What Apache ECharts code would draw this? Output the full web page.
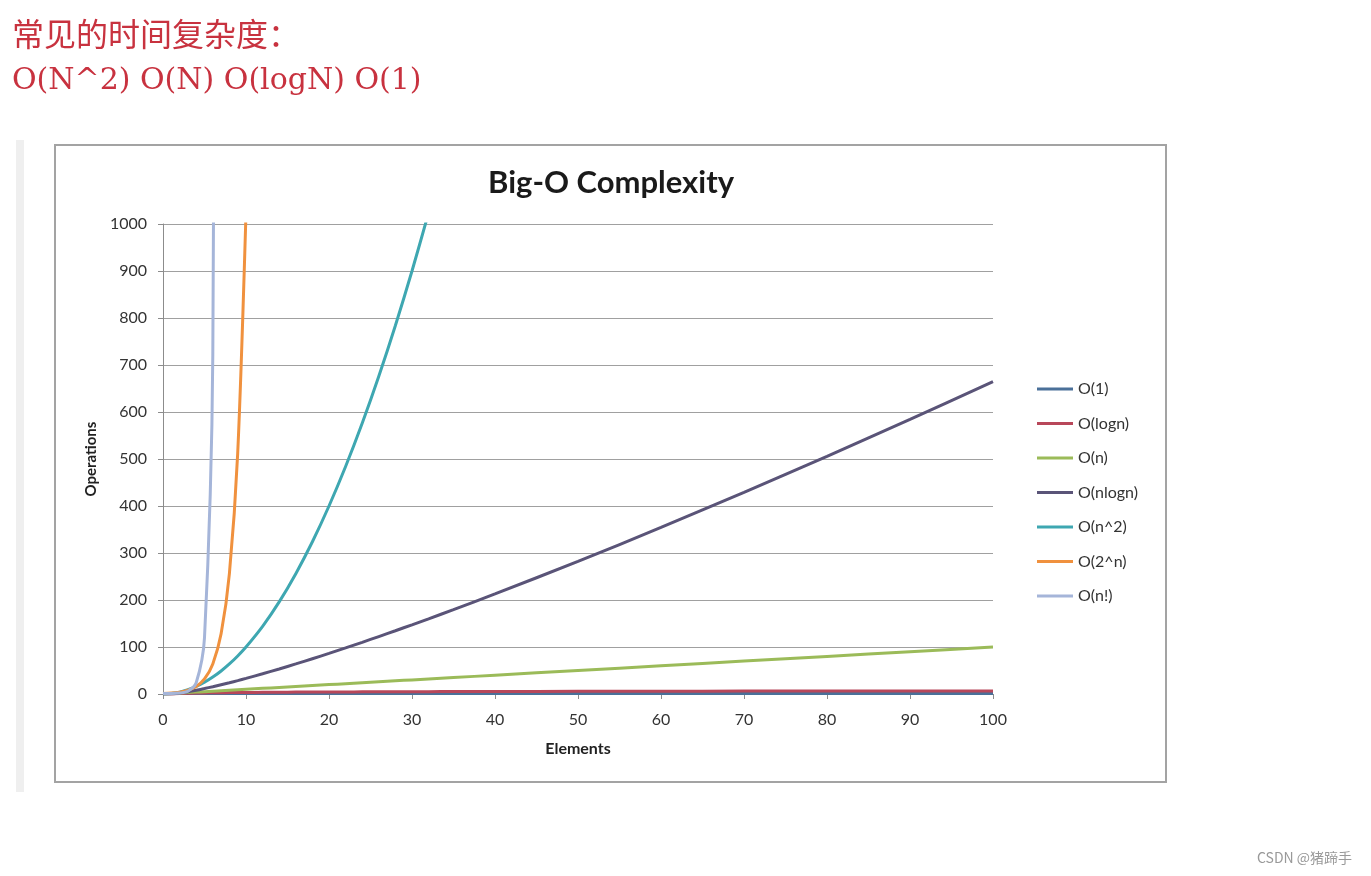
<!DOCTYPE html>
<html>
<head>
<meta charset="utf-8">
<script src="https://cdn.jsdelivr.net/npm/echarts@6/dist/echarts.min.js"></script>
<style>
html,body{margin:0;padding:0;background:#fff;}
#chart{width:1371px;height:876px;}
</style>
</head>
<body>
<div id="chart"></div>
<script>
// ---- data ----
const headingLine1 = '常见的时间复杂度：';
const headingLine2 = 'O(N^2) O(N) O(logN) O(1)';
const chartTitle = 'Big-O Complexity';
const xAxisName = 'Elements';
const yAxisName = 'Operations';
const watermark = 'CSDN @猪蹄手';
const seriesNames = ['O(1)', 'O(logn)', 'O(n)', 'O(nlogn)', 'O(n^2)', 'O(2^n)', 'O(n!)'];
const elements = [0, 1, 2, 3, 4, 5, 6, 7, 8, 9, 10, 12, 14, 16, 18, 20, 22, 24, 26, 28, 30, 32, 35, 40, 50, 60, 70, 80, 90, 100];
const opsConst  = [1, 1, 1, 1, 1, 1, 1, 1, 1, 1, 1, 1, 1, 1, 1, 1, 1, 1, 1, 1, 1, 1, 1, 1, 1, 1, 1, 1, 1, 1];
const opsLog    = [0, 0, 1, 1.58, 2, 2.32, 2.58, 2.81, 3, 3.17, 3.32, 3.58, 3.81, 4, 4.17, 4.32, 4.46, 4.58, 4.7, 4.81, 4.91, 5, 5.13, 5.32, 5.64, 5.91, 6.13, 6.32, 6.49, 6.64];
const opsLinear = [0, 1, 2, 3, 4, 5, 6, 7, 8, 9, 10, 12, 14, 16, 18, 20, 22, 24, 26, 28, 30, 32, 35, 40, 50, 60, 70, 80, 90, 100];
const opsNLogN  = [0, 0, 2, 4.75, 8, 11.6, 15.5, 19.7, 24, 28.5, 33.2, 43, 53.3, 64, 75.1, 86.4, 98.1, 110, 122.2, 134.6, 147.2, 160, 179.5, 212.9, 282.2, 354.4, 429.1, 505.8, 584.3, 664.4];
const opsSquare = [0, 1, 4, 9, 16, 25, 36, 49, 64, 81, 100, 144, 196, 256, 324, 400, 484, 576, 676, 784, 900, 1024, null, null, null, null, null, null, null, null];
const opsExp    = [1, 2, 4, 8, 16, 32, 64, 128, 256, 512, 1024, null, null, null, null, null, null, null, null, null, null, null, null, null, null, null, null, null, null, null];
const opsFact   = [1, 1, 2, 6, 24, 120, 720, 5040, null, null, null, null, null, null, null, null, null, null, null, null, null, null, null, null, null, null, null, null, null, null];
const yTicks = { min: 0, max: 1000, interval: 100 };
const xTicks = { min: 0, max: 100, interval: 10 };

const seriesValues = [opsConst, opsLog, opsLinear, opsNLogN, opsSquare, opsExp, opsFact];
const seriesColors = ['#4a7099', '#b8475a', '#9bbb59', '#5a5478', '#3ea7b1', '#f0913e', '#a5b5d9'];

const chart = echarts.init(document.getElementById('chart'), null, { renderer: 'canvas' });

const series = seriesNames.map((name, i) => ({
  name: name,
  type: 'line',
  data: elements.map((x, j) => [x, seriesValues[i][j]]),
  showSymbol: false,
  symbol: 'none',
  smooth: 0.3,
  connectNulls: false,
  clip: true,
  lineStyle: { width: 3, color: seriesColors[i] },
  itemStyle: { color: seriesColors[i] },
  z: 3 + i
}));

const tickFont = { fontFamily: 'Lato', fontSize: 16, color: '#333' };

chart.setOption({
  animation: false,
  backgroundColor: '#ffffff',
  title: {
    text: chartTitle,
    left: 483,
    top: 162,
    textStyle: { fontFamily: 'Lato', fontWeight: 'bold', fontSize: 31, lineHeight: 32, color: '#1a1a1a' }
  },
  graphic: [
    { type: 'rect', z: -10, shape: { x: 16, y: 140, width: 8, height: 652 }, style: { fill: '#efefef' } },
    { type: 'rect', z: -10, shape: { x: 55, y: 145, width: 1111, height: 637 }, style: { fill: '#ffffff', stroke: '#a3a3a3', lineWidth: 2 } },
    { type: 'text', z: 10, left: 12, top: 18, style: { text: headingLine1, fontFamily: 'Noto Sans CJK SC', fontSize: 32, fill: '#c8323f' } },
    { type: 'text', z: 10, left: 12, top: 66, style: { text: headingLine2, fontFamily: 'DejaVu Serif', fontSize: 30, fill: '#c8323f' } },
    { type: 'text', z: 10, left: 1257, top: 851, style: { text: watermark, fontFamily: 'Noto Sans CJK SC', fontSize: 14, fill: '#999999' } }
  ],
  legend: {
    orient: 'vertical',
    left: 1032,
    top: 376,
    icon: 'rect',
    itemWidth: 36,
    itemHeight: 3,
    itemGap: 18.5,
    data: seriesNames,
    textStyle: { fontFamily: 'Lato', fontSize: 16, color: '#333' }
  },
  grid: { left: 163, right: 378, top: 224, bottom: 182, containLabel: false },
  xAxis: {
    type: 'value',
    min: xTicks.min, max: xTicks.max, interval: xTicks.interval,
    name: xAxisName,
    nameLocation: 'middle',
    nameGap: 47,
    nameTextStyle: { fontFamily: 'Lato', fontWeight: 'bold', fontSize: 16, color: '#222' },
    axisLine: { show: true, lineStyle: { color: '#8c8c8c', width: 1 } },
    axisTick: { show: true, inside: false, length: 5, lineStyle: { color: '#8c8c8c' } },
    axisLabel: Object.assign({ margin: 18, formatter: v => String(v) }, tickFont),
    splitLine: { show: false }
  },
  yAxis: {
    type: 'value',
    min: yTicks.min, max: yTicks.max, interval: yTicks.interval,
    name: yAxisName,
    nameLocation: 'middle',
    nameGap: 58,
    nameRotate: 90,
    nameTextStyle: { fontFamily: 'Lato', fontWeight: 'bold', fontSize: 15, color: '#222' },
    axisLine: { show: true, lineStyle: { color: '#8c8c8c', width: 1 } },
    axisTick: { show: true, inside: false, length: 5, lineStyle: { color: '#8c8c8c' } },
    axisLabel: Object.assign({ margin: 16, formatter: v => String(v) }, tickFont),
    splitLine: { show: true, lineStyle: { color: '#a0a0a0', width: 1 } }
  },
  series: series
});
</script>
</body>
</html>
